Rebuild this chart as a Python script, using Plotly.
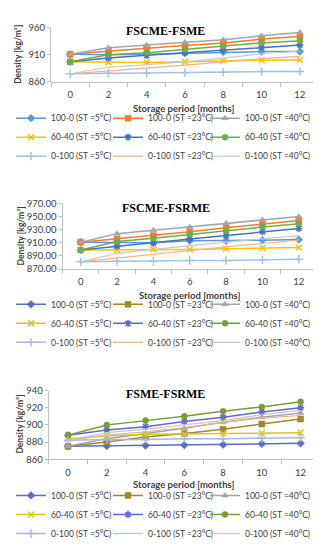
import plotly.graph_objects as go

W, H = 321, 550
months = [0, 2, 4, 6, 8, 10, 12]
x_ticks = [0, 2, 4, 6, 8, 10, 12]

names = ["100-0 (ST =5°C)", "100-0 (ST =23°C)", "100-0 (ST =40°C)",
         "60-40 (ST =5°C)", "60-40 (ST =23°C)", "60-40 (ST =40°C)",
         "0-100 (ST =5°C)", "0-100 (ST =23°C)", "0-100 (ST =40°C)"]

# Chart 1: FSCME-FSME
c1_100_0_5 = [911, 910, 911, 913, 915, 916, 916]
c1_100_0_23 = [911, 917, 922, 927, 932, 939, 944]
c1_100_0_40 = [911, 923, 928, 933, 938, 945, 951]
c1_60_40_5 = [897, 896, 896, 897, 899, 900, 901]
c1_60_40_23 = [897, 904, 909, 914, 919, 924, 928]
c1_60_40_40 = [897, 910, 914, 920, 926, 932, 936]
c1_0_100_5 = [875, 876, 876, 877, 878, 879, 879]
c1_0_100_23 = [875, 880, 886, 891, 897, 903, 907]
c1_0_100_40 = [875, 887, 892, 897, 904, 912, 917]

# Chart 2: FSCME-FSRME
c2_100_0_5 = [911, 911, 910, 913, 913, 914, 915]
c2_100_0_23 = [911, 916, 921, 927, 933, 938, 944]
c2_100_0_40 = [911, 924, 929, 934, 940, 945, 950]
c2_60_40_5 = [899, 899, 900, 900, 901, 902, 903]
c2_60_40_23 = [899, 905, 910, 916, 921, 927, 932]
c2_60_40_40 = [899, 912, 917, 923, 928, 934, 939]
c2_0_100_5 = [881, 882, 882, 883, 883, 884, 885]
c2_0_100_23 = [881, 887, 893, 899, 904, 909, 914]
c2_0_100_40 = [881, 894, 900, 906, 911, 916, 921]

# Chart 3: FSME-FSRME
c3_100_0_5 = [875, 875.5, 876, 876.5, 877, 878, 878.5]
c3_100_0_23 = [875, 880, 886, 890, 895, 901, 907]
c3_100_0_40 = [875, 884, 890, 896, 903, 909, 914]
c3_60_40_5 = [884, 887, 889, 889.5, 890, 890.5, 891]
c3_60_40_23 = [888, 894, 898, 904, 909, 915, 920]
c3_60_40_40 = [888, 900, 905, 910, 916, 921, 927]
c3_0_100_5 = [882, 883, 883, 884, 884, 884.5, 885]
c3_0_100_23 = [882, 888, 892, 897, 903, 908, 911]
c3_0_100_40 = [882, 891, 895, 900, 905, 912, 917]

series1 = [c1_100_0_5, c1_100_0_23, c1_100_0_40, c1_60_40_5, c1_60_40_23, c1_60_40_40, c1_0_100_5, c1_0_100_23, c1_0_100_40]
series2 = [c2_100_0_5, c2_100_0_23, c2_100_0_40, c2_60_40_5, c2_60_40_23, c2_60_40_40, c2_0_100_5, c2_0_100_23, c2_0_100_40]
series3 = [c3_100_0_5, c3_100_0_23, c3_100_0_40, c3_60_40_5, c3_60_40_23, c3_60_40_40, c3_0_100_5, c3_0_100_23, c3_0_100_40]

colors_a = ["#5B9BD5", "#ED7D31", "#A5A5A5", "#FFC000", "#4472C4", "#70AD47", "#9DC3E6", "#F4B183", "#C9C9C9"]
colors_b = ["#5B6BC8", "#9C8A2E", "#A5A5A5", "#D6C81E", "#6268C4", "#7A9A3C", "#A9B4E8", "#E0B98A", "#CCC4CC"]
symbols = ["diamond", "square", "triangle-up", "x-thin", "asterisk", "circle", "cross-thin", None, None]

FONT = "Lato"
fig = go.Figure()


def px_x(p):
    return p / W


def px_y(p):
    return 1 - p / H


def style(col, sym):
    if sym is None:
        return "lines", None, 1.2
    if sym in ("x-thin", "asterisk", "cross-thin"):
        return "lines+markers", dict(symbol=sym, size=6, color=col, line=dict(color=col, width=1.5)), 1.5
    return "lines+markers", dict(symbol=sym, size=6, color=col, line=dict(color=col, width=0.5)), 1.5


def leg_name(chart, i):
    n = (chart - 1) * 3 + (i % 3) + 1
    return "legend" if n == 1 else f"legend{n}"


def add_traces(series, colors, chart, show_legend=True):
    xa = "x" if chart == 1 else f"x{chart}"
    ya = "y" if chart == 1 else f"y{chart}"
    for i, (vals, col, sym) in enumerate(zip(series, colors, symbols)):
        mode, marker, lw = style(col, sym)
        fig.add_trace(go.Scatter(x=months, y=vals, name=names[i], mode=mode,
                                 line=dict(color=col, width=lw), marker=marker,
                                 xaxis=xa, yaxis=ya, legend=leg_name(chart, i),
                                 showlegend=show_legend))


def add_legend_only(colors, chart):
    for i, (col, sym) in enumerate(zip(colors, symbols)):
        mode, marker, lw = style(col, sym)
        fig.add_trace(go.Scatter(x=[None], y=[None], name=names[i], mode=mode,
                                 line=dict(color=col, width=lw), marker=marker,
                                 xaxis=f"x{chart}", yaxis=f"y{chart}",
                                 legend=leg_name(chart, i)))


add_traces(series1, colors_a, 1)
add_traces(series2, colors_a, 2, show_legend=False)
add_legend_only(colors_b, 2)
add_traces(series3, colors_b, 3)

axis_line = "#BFBFBF"
tickfont = dict(family=FONT, size=9.5, color="#404040")


def xaxis(left, right, anchor):
    return dict(domain=[px_x(left), px_x(right)], range=[-1, 13], anchor=anchor,
                tickvals=x_ticks, ticks="", showgrid=False, zeroline=False,
                showline=True, linecolor=axis_line, linewidth=1,
                tickfont=tickfont, ticklabelstandoff=4,
                minor=dict(tickvals=[-1, 1, 3, 5, 7, 9, 11, 13], ticks="outside", ticklen=4,
                           tickcolor=axis_line, showgrid=False))


def yaxis(top, bottom, rng, tv, fmt, anchor):
    return dict(domain=[px_y(bottom), px_y(top)], range=rng, anchor=anchor,
                tickvals=tv, tickformat=fmt, showgrid=False, zeroline=False,
                showline=True, linecolor=axis_line, linewidth=1,
                ticks="outside", ticklen=3, tickcolor=axis_line, tickfont=tickfont)


legend_common = dict(orientation="v", xanchor="left", yanchor="top",
                     font=dict(family=FONT, size=8.5, color="#404040"),
                     bgcolor="rgba(0,0,0,0)", tracegroupgap=0, itemwidth=30)

layout_legends = {}
col_x = [3, 100, 197]
leg_top = [91.5, 281.5, 476.5]
for chart in (1, 2, 3):
    for c in range(3):
        key = leg_name(chart, c)
        layout_legends[key] = dict(legend_common, x=px_x(col_x[c]), y=px_y(leg_top[chart - 1]))

fig.update_layout(
    width=W, height=H, margin=dict(l=0, r=0, t=0, b=0),
    paper_bgcolor="white", plot_bgcolor="white",
    xaxis=xaxis(43, 311, "y"),
    yaxis=yaxis(14, 69.3, [860, 960], [860, 910, 960], "d", "x"),
    xaxis2=xaxis(54.5, 309, "y2"),
    yaxis2=yaxis(193.3, 260.3, [870, 970], [870, 890, 910, 930, 950, 970], ".2f", "x2"),
    xaxis3=xaxis(40.6, 312, "y3"),
    yaxis3=yaxis(384.3, 454.3, [860, 940], [860, 880, 900, 920, 940], "d", "x3"),
    showlegend=True,
    **layout_legends,
)

title_font = dict(family="Liberation Serif", size=12, color="#000000")
axt_font = dict(family=FONT, size=9.5, color="#404040")
ann = []
for (tx, ty, txt) in [(157, 17, "<b>FSCME-FSME</b>"), (158, 198, "<b>FSCME-FSRME</b>"), (157, 388, "<b>FSME-FSRME</b>")]:
    ann.append(dict(x=px_x(tx), y=px_y(ty), xref="paper", yref="paper", text=txt,
                    showarrow=False, font=title_font, xanchor="center", yanchor="middle"))
for (tx, ty) in [(176, 96), (182, 287), (176, 480)]:
    ann.append(dict(x=px_x(tx), y=px_y(ty), xref="paper", yref="paper", text="<b>Storage period [months]</b>",
                    showarrow=False, font=axt_font, xanchor="center", yanchor="middle"))
for (tx, ty) in [(10, 41.7), (13, 227), (12, 419)]:
    ann.append(dict(x=px_x(tx), y=px_y(ty), xref="paper", yref="paper", text="<b>Density [kg/m³]</b>",
                    showarrow=False, font=dict(family=FONT, size=8.5, color="#404040"),
                    textangle=-90, xanchor="center", yanchor="middle"))
fig.update_layout(annotations=ann)

fig.write_html("out.html")
